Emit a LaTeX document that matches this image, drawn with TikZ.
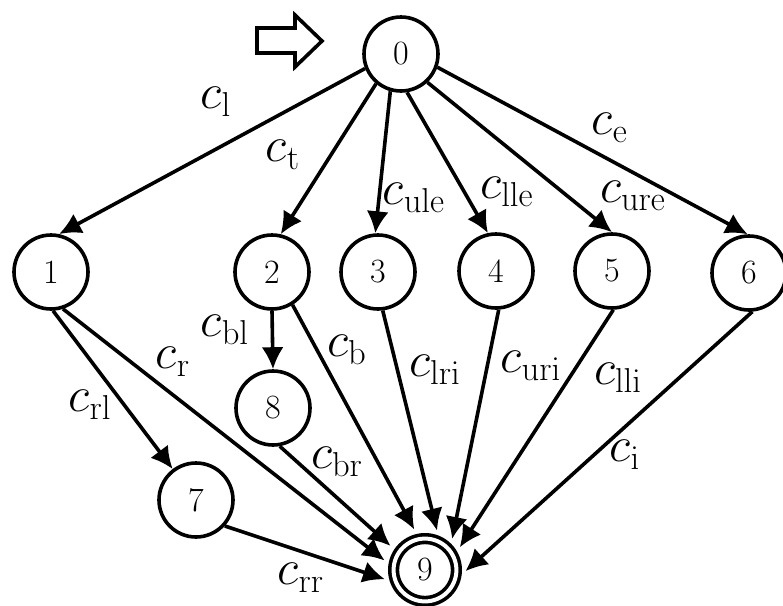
\documentclass[tikz,border=0pt]{standalone}
\usetikzlibrary{arrows.meta}

\begin{document}
\begin{tikzpicture}[x=0.5pt, y=-0.5pt, line width=1.8pt, >={Latex[length=11pt,width=11pt]},
    state/.style={draw, circle, minimum size=37pt, inner sep=0pt, font=\fontsize{17}{20}\selectfont},
    final/.style={state, double, double distance=2pt, minimum size=31.4pt, outer sep=2.8pt},
    lab/.style={font=\fontsize{25}{30}\selectfont, inner sep=0pt},
    toend/.style={->, shorten >=2.5pt}]
\useasboundingbox (0,0) rectangle (783,606);

% states
\node[state] (n0) at (401,54) {0};
\node[state] (n1) at (51,272) {1};
\node[state] (n2) at (272,272) {2};
\node[state] (n3) at (378,272) {3};
\node[state] (n4) at (496,271) {4};
\node[state] (n5) at (612,271) {5};
\node[state] (n6) at (749,273) {6};
\node[state] (n8) at (273,408) {8};
\node[state] (n7) at (196,500) {7};
\node[final] (n9) at (425,570) {9};

% start marker
\draw (257,28) -- (295,28) -- (295,15) -- (322,41) -- (295,67) -- (295,53) -- (257,53) -- cycle;

% from the start state
\draw[->] (n0.202) -- (n1.78);
\draw[->] (n0.230) -- (n2.77);
\draw[->] (n0.254) -- (n3.94);
\draw[->] (n0.279) -- (n4.102);
\draw[->] (n0.313) -- (n5.90);
\draw[->] (n0.340) -- (n6.92);

% middle row
\draw[->] (n1.273) -- (n7.127);
\draw[->] (n2.270) -- (n8.90);

% into the final state
\draw[toend] (n1.288) -- (n9.170);
\draw[toend] (n7.318) -- (n9.197);
\draw[toend] (n8.280) -- (n9.146);
\draw[toend] (n2.302) -- (n9.103);
\draw[toend] (n3.277) -- (n9.69);
\draw[toend] (n4.274) -- (n9.45);
\draw[toend] (n5.272) -- (n9.30);
\draw[toend] (n6.275) -- (n9.353);

% edge labels
\node[lab] (cl) at (216,102) {$c_{\mathrm{l}}$};
\node[lab] (ct) at (283,155) {$c_{\mathrm{t}}$};
\node[lab] (cule) at (414,198) {$c_{\mathrm{ule}}$};
\node[lab] (clle) at (507,192) {$c_{\mathrm{lle}}$};
\node[lab] (cure) at (633,196) {$c_{\mathrm{ure}}$};
\node[lab] (ce) at (610,128) {$c_{\mathrm{e}}$};
\node[lab] (cbl) at (225,330) {$c_{\mathrm{bl}}$};
\node[lab] (cr) at (173,362) {$c_{\mathrm{r}}$};
\node[lab] (crl) at (90,405) {$c_{\mathrm{rl}}$};
\node[lab] (cb) at (347,350) {$c_{\mathrm{b}}$};
\node[lab] (cbr) at (337,462) {$c_{\mathrm{br}}$};
\node[lab] (crr) at (301,578) {$c_{\mathrm{rr}}$};
\node[lab] (clri) at (435,370) {$c_{\mathrm{lri}}$};
\node[lab] (curi) at (531,366) {$c_{\mathrm{uri}}$};
\node[lab] (clli) at (618,378) {$c_{\mathrm{lli}}$};
\node[lab] (ci) at (625,455) {$c_{\mathrm{i}}$};
\end{tikzpicture}
\end{document}
